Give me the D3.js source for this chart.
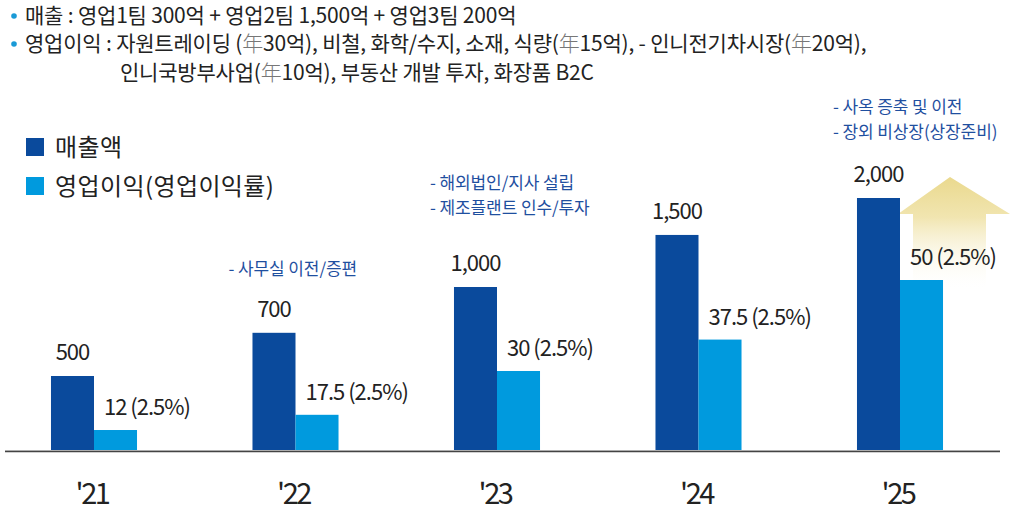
<!DOCTYPE html>
<html><head><meta charset="utf-8">
<script src="https://cdn.jsdelivr.net/npm/d3@7"></script>
<style>
html,body{margin:0;padding:0;background:#fff;}
svg{display:block;}
text{font-family:"Noto Sans CJK KR","Noto Sans",sans-serif;}
</style></head>
<body>
<svg id="chart" width="1025" height="512"></svg>
<script>
// ---- data ----
const years = ["'21", "'22", "'23", "'24", "'25"];
const sales = [500, 700, 1000, 1500, 2000];
const salesLabels = ["500", "700", "1,000", "1,500", "2,000"];
const profit = [12, 17.5, 30, 37.5, 50];
const profitLabels = ["12 (2.5%)", "17.5 (2.5%)", "30 (2.5%)", "37.5 (2.5%)", "50 (2.5%)"];
const seriesNames = ["매출액", "영업이익(영업이익률)"];
const notes22 = ["- 사무실 이전/증편"];
const notes23 = ["- 해외법인/지사 설립", "- 제조플랜트 인수/투자"];
const notes25 = ["- 사옥 증축 및 이전", "- 장외 비상장(상장준비)"];
const headerLines = [
  [["매출 : 영업1팀 300억 + 영업2팀 1,500억 + 영업3팀 200억", "t"]],
  [["영업이익 : 자원트레이딩 (", "t"], ["年", "g"], ["30억), 비철, 화학/수지, 소재, 식량(", "t"], ["年", "g"], ["15억), - 인니전기차시장(", "t"], ["年", "g"], ["20억),", "t"]],
  [["인니국방부사업(", "t"], ["年", "g"], ["10억), 부동산 개발 투자, 화장품 B2C", "t"]]
];
const headerBullets = [true, true, false];

// ---- styles ----
const C_DARK = "#0a4a9c", C_LIGHT = "#009ade", C_TEXT = "#222", C_NOTE = "#1f4f9f", C_BULLET = "#1a9ad6";
const svg = d3.select("#chart");
const baseY = 450;

// scales
const step = 201.5;
const x = d3.scaleBand().domain(years).range([94 - step/2, 900 + step/2]).paddingInner(0.573).paddingOuter(0.2865);
const xs = d3.scaleBand().domain(["s","p"]).range([0, x.bandwidth()]);
const ySales = d3.scaleLog().domain([281, 2000]).range([baseY, 198]);
const yProfit = d3.scalePow().exponent(1.5).domain([0, 50]).range([baseY, 280]);

// defs gradient for arrow
const defs = svg.append("defs");
const grad = defs.append("linearGradient").attr("id","arrowGrad").attr("x1",0).attr("y1",0).attr("x2",0).attr("y2",1);
grad.append("stop").attr("offset","0%").attr("stop-color","#ead98e");
grad.append("stop").attr("offset","35%").attr("stop-color","#f1e5b0");
grad.append("stop").attr("offset","100%").attr("stop-color","#ffffff").attr("stop-opacity",0);

// header text
const hdr = svg.append("g");
const hdrY = [23, 51, 80], hdrX = [25, 25, 120];
headerLines.forEach((line, i) => {
  if (headerBullets[i]) hdr.append("circle").attr("cx", 14).attr("cy", hdrY[i] - 7).attr("r", 2.8).attr("fill", C_BULLET);
  const t = hdr.append("text").attr("x", hdrX[i]).attr("y", hdrY[i]).attr("font-size", 21).attr("letter-spacing", -0.2).attr("fill", C_TEXT);
  line.forEach(([s, k]) => {
    const ts = t.append("tspan").text(s);
    if (k === "g") ts.attr("fill", "#777").attr("font-family", "'Noto Sans CJK JP'").attr("font-weight", 300);
  });
});

// legend
const legend = svg.append("g");
[C_DARK, C_LIGHT].forEach((c, i) => {
  legend.append("rect").attr("x", 26).attr("y", 138 + i*39).attr("width", 18).attr("height", 18).attr("fill", c);
  legend.append("text").attr("x", 55).attr("y", 156 + i*39).attr("font-size", 24).attr("letter-spacing", 0.4).attr("fill", C_TEXT).text(seriesNames[i]);
});

// arrow (decoration) near '25
const ax = x("'25") + xs("p");
const arrowPts = [[ax - 2, 214], [ax + 50, 177], [ax + 110, 214], [ax + 86, 214], [ax + 86, 292], [ax + 13, 292], [ax + 13, 214]];
svg.append("path").attr("d", d3.line()(arrowPts) + "Z").attr("fill", "url(#arrowGrad)");

// bars
const g = svg.append("g");
g.selectAll(".bs").data(years).join("rect")
  .attr("x", d => x(d) + xs("s")).attr("width", xs.bandwidth())
  .attr("y", (d,i) => ySales(sales[i])).attr("height", (d,i) => baseY - ySales(sales[i]))
  .attr("fill", C_DARK);
g.selectAll(".bp").data(years).join("rect")
  .attr("x", d => x(d) + xs("p")).attr("width", xs.bandwidth())
  .attr("y", (d,i) => yProfit(profit[i])).attr("height", (d,i) => baseY - yProfit(profit[i]))
  .attr("fill", C_LIGHT);

// axis line
svg.append("line").attr("x1", 5).attr("x2", 1000).attr("y1", baseY + 0.5).attr("y2", baseY + 0.5).attr("stroke", "#cfcfcf").attr("stroke-width", 1);
svg.append("line").attr("x1", 5).attr("x2", 1000).attr("y1", baseY + 1.5).attr("y2", baseY + 1.5).attr("stroke", "#444").attr("stroke-width", 1.5);

// value labels
g.selectAll(".ls").data(years).join("text")
  .attr("x", d => x(d) + xs("s") + xs.bandwidth()/2).attr("y", (d,i) => ySales(sales[i]) - 16)
  .attr("text-anchor", "middle").attr("font-size", 22).attr("letter-spacing", -1).attr("fill", C_TEXT)
  .text((d,i) => salesLabels[i]);
g.selectAll(".lp").data(years).join("text")
  .attr("x", d => x(d) + xs("p") + 10).attr("y", (d,i) => yProfit(profit[i]) - 15)
  .attr("font-size", 22).attr("letter-spacing", -1).attr("fill", C_TEXT)
  .text((d,i) => profitLabels[i]);

// x-axis labels
svg.append("g").selectAll("text").data(years).join("text")
  .attr("x", d => x(d) + x.bandwidth()/2 - 2).attr("y", 504)
  .attr("text-anchor", "middle").attr("font-size", 29).attr("fill", C_TEXT)
  .attr("font-family", "'Liberation Sans','Noto Sans',sans-serif").attr("letter-spacing", -2.5)
  .text(d => d);

// annotations (multi-line as tspans)
const notes = [["'22", notes22, 275], ["'23", notes23, 189], ["'25", notes25, 113]];
notes.forEach(([yr, lines, y0]) => {
  const t = svg.append("text").attr("x", x(yr) - 24).attr("y", y0)
    .attr("font-size", 17).attr("letter-spacing", -0.1).attr("fill", C_NOTE);
  lines.forEach((s, j) => {
    t.append("tspan").attr("x", x(yr) - 24).attr("dy", j === 0 ? 0 : 25).text(s);
  });
});
</script>
</body></html>
